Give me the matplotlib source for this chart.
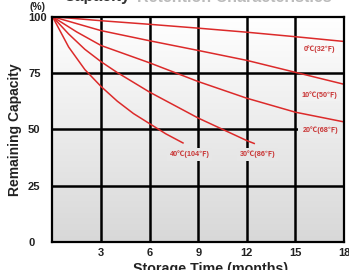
import numpy as np
import matplotlib
matplotlib.use("Agg")
import matplotlib.pyplot as plt
from matplotlib.colors import LinearSegmentedColormap

# ---- data ----
months_0c = [0, 3, 6, 9, 12, 15, 18]
cap_0c = [100, 98.2, 96.6, 94.9, 93.1, 91.1, 89]
months_10c = [0, 3, 6, 9, 12, 15, 18]
cap_10c = [100, 93.8, 89.3, 85, 80.6, 75.3, 70]
months_20c = [0, 1.5, 3, 6, 9, 12, 15, 18]
cap_20c = [100, 93.2, 87.2, 79.5, 71.2, 63.8, 57.6, 53.3]
months_30c = [0, 1, 2, 3, 4, 6, 9, 12, 12.5]
cap_30c = [100, 92.3, 85.5, 80, 75.2, 66.5, 55, 45, 43.6]
months_40c = [0, 1, 2, 3, 4, 5, 6, 7, 8.1]
cap_40c = [100, 86.5, 76.5, 69, 62.5, 57, 52.5, 48, 43.8]

series_labels = ["0℃(32℉)", "10℃(50℉)", "20℃(68℉)", "30℃(86℉)", "40℃(104℉)"]
label_pos = [(16.5, 85.4), (16.5, 65.3), (16.55, 49.8), (12.67, 39.0), (8.48, 39.0)]
label_pad = [0.35, 0.35, 0.6, 0.35, 0.35]

x_ticks = [3, 6, 9, 12, 15, 18]
y_ticks = [0, 25, 50, 75, 100]

LINE_C = "#dc2a2a"
TEXT_C = "#c93636"
FONTS = ["Liberation Sans", "Noto Sans CJK SC", "DejaVu Sans"]

fig = plt.figure(figsize=(3.49, 2.70), dpi=100)
fig.patch.set_facecolor("white")
ax = fig.add_axes([0.1504, 0.1037, 0.8352, 0.8346])

cmap = LinearSegmentedColormap.from_list("bg", ["#d8d8d8", "#ffffff"])
grad = np.linspace(1, 0, 256).reshape(-1, 1)
ax.imshow(grad, extent=[0, 18, 0, 100], aspect="auto", cmap=cmap, zorder=0,
          vmin=0, vmax=1)

for v in x_ticks[:-1]:
    ax.axvline(v, color="black", lw=1.8, zorder=1)
for v in y_ticks[1:-1]:
    ax.axhline(v, color="black", lw=1.8, zorder=1)

for xs, ys in [(months_0c, cap_0c), (months_10c, cap_10c), (months_20c, cap_20c),
               (months_30c, cap_30c), (months_40c, cap_40c)]:
    ax.plot(xs, ys, color=LINE_C, lw=1.1, zorder=3, solid_capstyle="butt")

for lab, (lx, ly), pd in zip(series_labels, label_pos, label_pad):
    ax.text(lx, ly, lab, color=TEXT_C, fontsize=5.2, fontweight="bold",
            family=FONTS, ha="center", va="center", zorder=2,
            bbox=dict(boxstyle="square,pad=%g" % pd, fc=cmap(ly / 100.0),
                      ec="none"))

ax.set_xlim(0, 18)
ax.set_ylim(0, 100)
for s in ax.spines.values():
    s.set_linewidth(1.6)
    s.set_color("black")
    s.set_zorder(5)

ax.set_xticks(x_ticks)
ax.set_xticklabels([str(t) for t in x_ticks], fontsize=8, fontweight="bold",
                   family=FONTS, color="#222222")
ax.set_yticks(y_ticks)
ax.set_yticklabels([str(t) for t in y_ticks], fontsize=8, fontweight="bold",
                   family=FONTS, color="#222222")
ax.tick_params(axis="x", length=0, pad=4)
ax.tick_params(axis="y", length=0, pad=17.6)
for lab in ax.get_yticklabels():
    lab.set_ha("left")

fig.text(37 / 349, 1 - 6.5 / 270, "(%)", fontsize=7.5, fontweight="bold",
         family=FONTS, color="#222222", ha="center", va="center")
fig.text(15 / 349, 1 - 130 / 270, "Remaining Capacity", rotation=90,
         fontsize=10, fontweight="bold", family=FONTS, color="#222222",
         ha="center", va="center")
fig.text(211 / 349, 1 - 269 / 270, "Storage Time (months)",
         fontsize=10.3, fontweight="bold", family=FONTS, color="#222222",
         ha="center", va="center")
fig.text(63 / 349, 1 - 1.5 / 270, "Capacity", fontsize=11.5, fontweight="bold",
         family=FONTS, color="#333333", ha="left", va="baseline")
fig.text(137 / 349, 1 - 1.5 / 270, "Retention Characteristics", fontsize=11.5,
         fontweight="bold", family=FONTS, color="#bbbbbb", ha="left",
         va="baseline")

fig.savefig("out.png", dpi=100)
